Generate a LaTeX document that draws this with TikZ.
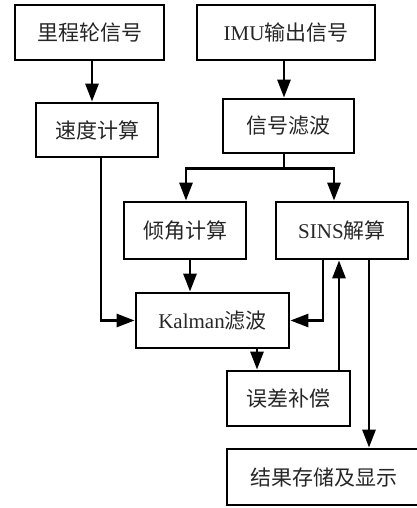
\documentclass[tikz,border=0pt]{standalone}
\usepackage{fontspec}
\setmainfont{Liberation Serif}
\newfontfamily\cjk{Noto Sans CJK SC}
\usetikzlibrary{arrows.meta,calc}
\begin{document}
\begin{tikzpicture}[x=1pt,y=-1pt,
  box/.style={draw=black,line width=2.8pt,rectangle,inner sep=0pt,
    text=black!85,font=\fontsize{21}{25}\selectfont},
  arr/.style={draw=black,line width=2.8pt,-{Triangle[length=18pt,width=13pt]}},
  ln/.style={draw=black,line width=2.8pt}]
\useasboundingbox (0,0) rectangle (417,508);
\clip (0,0) rectangle (417,508);
\node[box,minimum width=149pt,minimum height=55pt] (b1) at (89.5,32.5) {\cjk 里程轮信号};
\node[box,minimum width=178pt,minimum height=55pt] (b2) at (286,32.5) {IMU{\cjk 输出信号}};
\node[box,minimum width=122pt,minimum height=54pt] (b3) at (97,130) {\cjk 速度计算};
\node[box,minimum width=131pt,minimum height=54pt] (b4) at (288.5,126) {\cjk 信号滤波};
\node[box,minimum width=122pt,minimum height=57pt] (b5) at (185,230.5) {\cjk 倾角计算};
\node[box,minimum width=132pt,minimum height=57pt] (b6) at (342,230.5) {SINS{\cjk 解算}};
\node[box,minimum width=153pt,minimum height=55pt] (k) at (212.5,320.5) {Kalman{\cjk 滤波}};
\node[box,minimum width=123pt,minimum height=55pt] (e) at (288.5,398.5) {\cjk 误差补偿};
\node[box,minimum width=194pt,minimum height=56pt] (r) at (324,477) {\cjk 结果存储及显示};
% connectors
\draw[arr] ([xshift=2.5pt]b1.south) -- ([xshift=2.5pt]b1.south |- b3.north);
\draw[arr] ([xshift=-2pt]b2.south) -- ([xshift=-2pt]b2.south |- b4.north);
\coordinate (sp) at ($([xshift=-4.5pt]b4.south)+(0,14)$);
\draw[ln] ([xshift=-4.5pt]b4.south) -- (sp);
\draw[arr] (sp) -| ([xshift=1pt]b5.north);
\draw[arr] (sp) -| ([xshift=-8pt]b6.north);
\draw[arr] ([xshift=4pt]b3.south) |- (k.west);
\draw[arr] ([xshift=5pt]b5.south) -- ([xshift=5pt]b5.south |- k.north);
\draw[arr] ([xshift=-19pt]b6.south) |- (k.east);
\draw[arr] ([xshift=44.5pt]k.south) -- ([xshift=44.5pt]k.south |- e.north);
\draw[arr] ([xshift=50.5pt]e.north) -- ([xshift=50.5pt]e.north |- b6.south);
\draw[arr] ([xshift=27pt]b6.south) -- ([xshift=27pt]b6.south |- r.north);
\end{tikzpicture}
\end{document}
